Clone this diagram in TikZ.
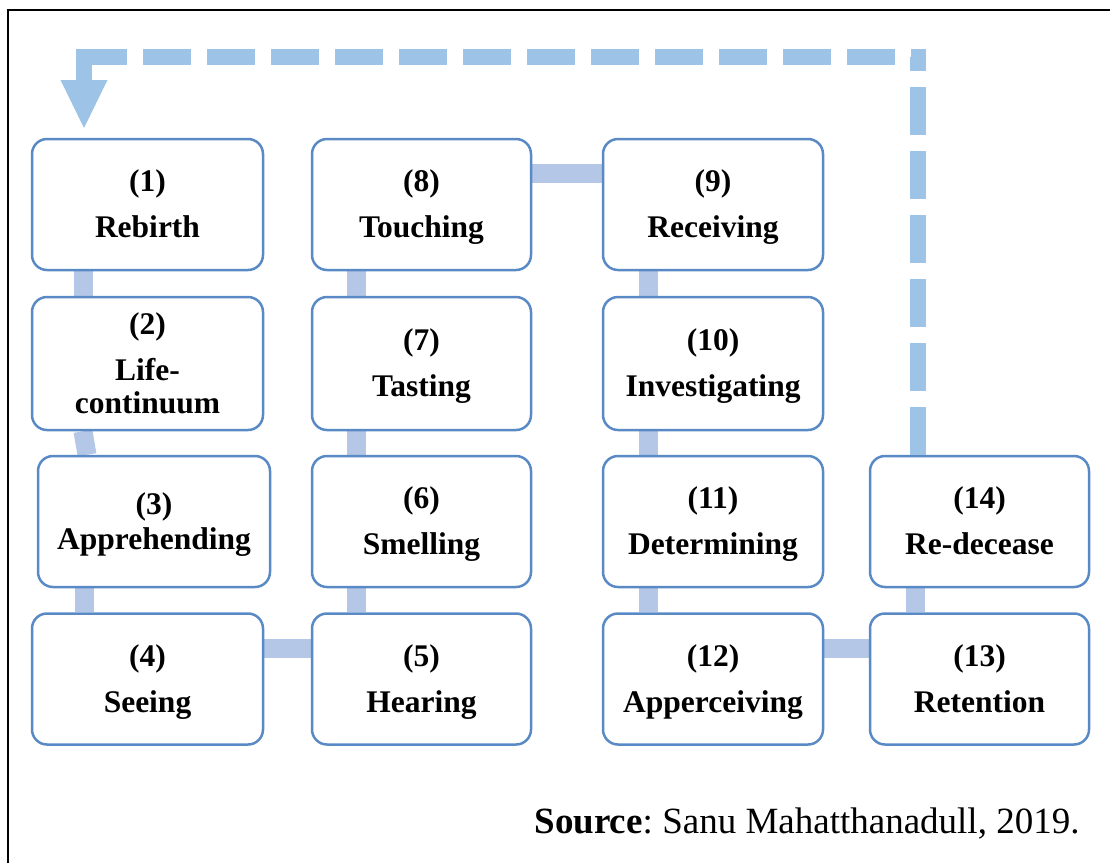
\documentclass[tikz,border=0pt]{standalone}
\usepackage{fontspec}
\setmainfont{Liberation Serif}
\usetikzlibrary{arrows.meta,backgrounds,calc}
\frenchspacing

\definecolor{boxblue}{HTML}{5A8AC6}
\definecolor{linkblue}{HTML}{B4C7E7}
\definecolor{loopblue}{HTML}{9DC3E6}

% struts that fix the first-line height and last-line depth of a stage label
\newcommand\stagetop{\rule{0pt}{28pt}}
\newcommand\stagebot{\rule[-8pt]{0pt}{8pt}}

\begin{document}
\begin{tikzpicture}[x=1pt,y=-1pt,
  stage/.style={draw=boxblue, line width=2.5pt, fill=white, rounded corners=15pt,
    align=center, inner sep=0pt, minimum height=131pt,
    font=\bfseries\fontsize{31.5}{33}\selectfont},
  wide/.style={minimum width=231pt},
  narrow/.style={minimum width=219pt},
  link/.style={draw=linkblue, line width=19pt},
  loopback/.style={draw=loopblue, line width=16pt, line join=miter,
    dash pattern=on 48pt off 16pt on 48pt off 16pt on 48pt off 16pt
      on 48pt off 16pt on 48pt off 16pt on 48pt off 16pt
      on 21pt off 16pt
      on 48pt off 16pt on 48pt off 16pt on 48pt off 16pt on 48pt off 16pt
      on 48pt off 16pt on 48pt off 16pt on 48pt off 16pt on 48pt off 16pt
      on 48pt off 16pt on 48pt off 16pt on 48pt off 16pt on 48pt off 16pt
      on 90pt off 10pt,
    -{Triangle[length=48pt,width=47pt,line width=0pt]}}]

\useasboundingbox (0,0) rectangle (1110,863);

% outer frame (left and top edges)
\draw[line width=2pt] (8,863) -- (8,10) -- (1110,10);

% stages of the cognitive process
\node[stage,wide]   (c1)  at (147.5,204.5) {\stagetop(1)\\[13pt]Rebirth\stagebot};
\node[stage,wide,minimum height=133pt] (c2) at (147.5,363.5) {\stagetop(2)\\[13pt]Life-\\continuum\stagebot};
\node[stage,minimum width=232pt] (c3) at (154,521.5) {\stagetop(3)\\[2pt]Apprehending\stagebot};
\node[stage,wide]   (c4)  at (147.5,679) {\stagetop(4)\\[13pt]Seeing\stagebot};
\node[stage,narrow] (c5)  at (421.5,679) {\stagetop(5)\\[13pt]Hearing\stagebot};
\node[stage,narrow] (c6)  at (421.5,521.5) {\stagetop(6)\\[13pt]Smelling\stagebot};
\node[stage,narrow,minimum height=133pt] (c7) at (421.5,363.5) {\stagetop(7)\\[13pt]Tasting\stagebot};
\node[stage,narrow] (c8)  at (421.5,204.5) {\stagetop(8)\\[13pt]Touching\stagebot};
\node[stage,narrow,minimum width=220pt] (c9)  at (713,204.5) {\stagetop(9)\\[13pt]Receiving\stagebot};
\node[stage,narrow,minimum width=220pt,minimum height=133pt] (c10) at (713,363.5) {\stagetop(10)\\[13pt]Investigating\stagebot};
\node[stage,narrow,minimum width=220pt] (c11) at (713,521.5) {\stagetop(11)\\[13pt]Determining\stagebot};
\node[stage,narrow,minimum width=220pt] (c12) at (713,679) {\stagetop(12)\\[13pt]Apperceiving\stagebot};
\node[stage,narrow] (c13) at (979.5,679) {\stagetop(13)\\[13pt]Retention\stagebot};
\node[stage,narrow] (c14) at (979.5,521.5) {\stagetop(14)\\[13pt]Re-decease\stagebot};

% lanes for the connectors
\coordinate (laneA)  at (83,0);
\coordinate (laneA2) at (87,0);
\coordinate (laneA3) at (84,0);
\coordinate (laneB)  at (356,0);
\coordinate (laneC)  at (648,0);
\coordinate (laneD)  at (915,0);
\coordinate (rowTop) at (0,173.5);
\coordinate (rowBot) at (0,648);

\begin{scope}[on background layer]
  \draw[link] (c1.south -| laneA) -- (c2.north -| laneA);
  \draw[link] (c2.south -| laneA) -- (c3.north -| laneA2);
  \draw[link] (c3.south -| laneA3) -- (c4.north -| laneA3);
  \draw[link] (c4.east |- rowBot) -- (c5.west |- rowBot);
  \draw[link] (c5.north -| laneB) -- (c6.south -| laneB);
  \draw[link] (c6.north -| laneB) -- (c7.south -| laneB);
  \draw[link] (c7.north -| laneB) -- (c8.south -| laneB);
  \draw[link] (c8.east |- rowTop) -- (c9.west |- rowTop);
  \draw[link] (c9.south -| laneC) -- (c10.north -| laneC);
  \draw[link] (c10.south -| laneC) -- (c11.north -| laneC);
  \draw[link] (c11.south -| laneC) -- (c12.north -| laneC);
  \draw[link] (c12.east |- rowBot) -- (c13.west |- rowBot);
  \draw[link] (c13.north -| laneD) -- (c14.south -| laneD);
\end{scope}

% dashed return path from re-decease back to rebirth
\coordinate (turn) at (918,57);
\coordinate (tip)  at (84,128);
\draw[loopback] (c14.north -| turn) -- (turn) -| (tip);

% citation
\node[anchor=base east, font=\fontsize{37}{40}\selectfont] (src) at (1083,833)
  {\textbf{Source}: Sanu Mahatthanadull, 2019.};
\end{tikzpicture}
\end{document}
